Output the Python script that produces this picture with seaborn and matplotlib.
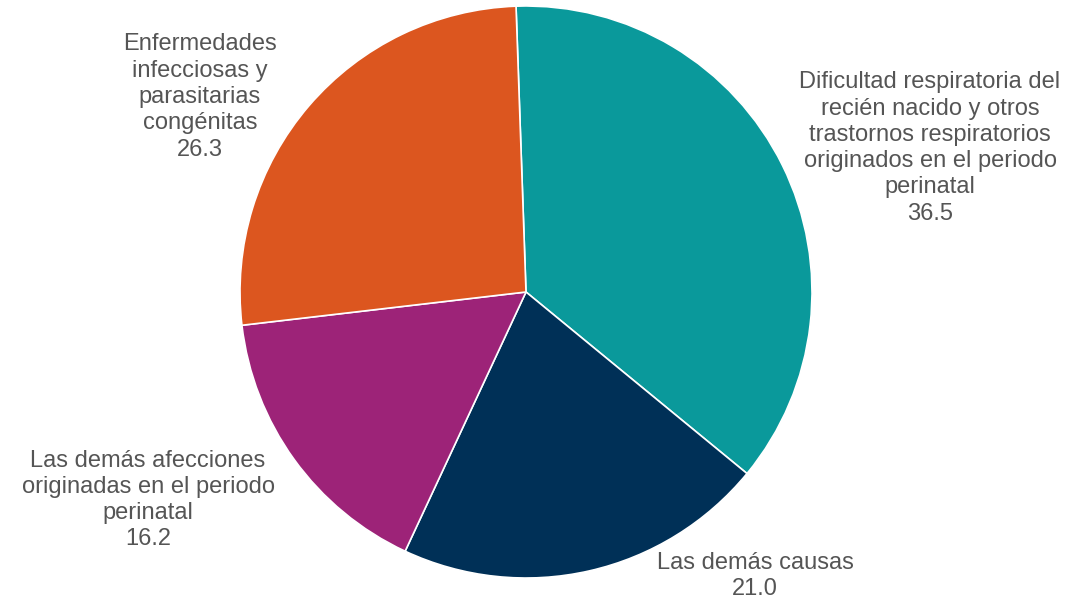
import matplotlib.pyplot as plt
import seaborn as sns

# data
causes = [
    "Dificultad respiratoria del\nrecién nacido y otros\ntrastornos respiratorios\noriginados en el periodo\nperinatal",
    "Las demás causas",
    "Las demás afecciones\noriginadas en el periodo\nperinatal",
    "Enfermedades\ninfecciosas y\nparasitarias\ncongénitas",
]
shares = [36.5, 21.0, 16.2, 26.3]
colors = ["#0A999B", "#003057", "#9D2378", "#DC561F"]

sns.set_theme(style="white")
plt.rcParams["font.family"] = ["Liberation Sans", "DejaVu Sans"]

W, H = 1070, 603
fig = plt.figure(figsize=(W / 100, H / 100), dpi=100)
ax = fig.add_axes([0, 0, 1, 1])

cx, cy, r = 526, 292, 286
ax.pie(shares, colors=sns.color_palette(colors), startangle=92, counterclock=False,
       wedgeprops=dict(edgecolor="white", linewidth=1.2))

# map pixel layout onto data coords (radius = 1)
ax.set_aspect("auto")
ax.set_xlim(-cx / r, (W - cx) / r)
ax.set_ylim(-(H - cy) / r, cy / r)
ax.axis("off")

# label anchors in pixel positions (centre of each block)
label_pos = [(930, 148), (755, 576), (148, 500), (200, 97)]
for name, val, (px, py) in zip(causes, shares, label_pos):
    ax.text((px - cx) / r, (cy - py) / r, f"{name}\n{val:.1f}",
            ha="center", va="center", fontsize=17, color="#555555",
            linespacing=1.25)

fig.savefig("out.png", dpi=100)
